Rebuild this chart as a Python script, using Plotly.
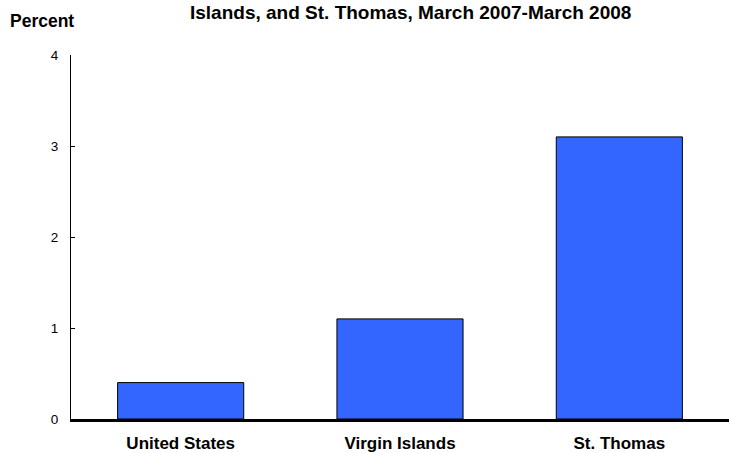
import plotly.graph_objects as go

categories = ["United States", "Virgin Islands", "St. Thomas"]
values = [0.4, 1.1, 3.1]
y_ticks = [0, 1, 2, 3, 4]
title_text = "Islands, and St. Thomas, March 2007-March 2008"
y_label = "Percent"

FONT = "Liberation Sans, Arial, sans-serif"

fig = go.Figure()
fig.add_trace(go.Bar(
    x=categories, y=values, width=0.575,
    marker=dict(color="#3366FF", line=dict(color="black", width=1)),
))

fig.update_layout(
    width=729, height=453,
    margin=dict(l=71, r=0, t=55, b=34, autoexpand=False),
    plot_bgcolor="white", paper_bgcolor="white",
    font=dict(family=FONT, size=13, color="black"),
    showlegend=False,
)
fig.update_xaxes(
    tickvals=categories,
    ticktext=["<b>" + c + "</b>" for c in categories],
    showline=True, linecolor="black", linewidth=3,
    ticks="", ticklabelstandoff=7,
    tickfont=dict(size=17),
    range=[-0.5, 2.5], automargin=False,
)
fig.update_yaxes(
    range=[0, 4], tickvals=y_ticks,
    showline=True, linecolor="black", linewidth=1,
    ticks="inside", ticklen=4, tickcolor="black",
    showgrid=False, zeroline=False,
    ticklabelstandoff=9,
    tickfont=dict(size=13.5), automargin=False,
)
fig.add_annotation(text="<b>" + title_text + "</b>",
                   xref="paper", yref="paper", x=(410.5 - 71) / 658, y=1, yshift=43,
                   showarrow=False, font=dict(size=19), xanchor="center", yanchor="middle")
fig.add_annotation(text="<b>" + y_label + "</b>", xref="paper", yref="paper",
                   x=(8 - 71) / 658, y=1, yshift=34, xanchor="left", yanchor="middle",
                   showarrow=False, font=dict(size=17.5))
fig.write_html("out.html", config={"displayModeBar": False},
               post_script="document.body.style.margin='0';document.body.style.overflow='hidden';")
